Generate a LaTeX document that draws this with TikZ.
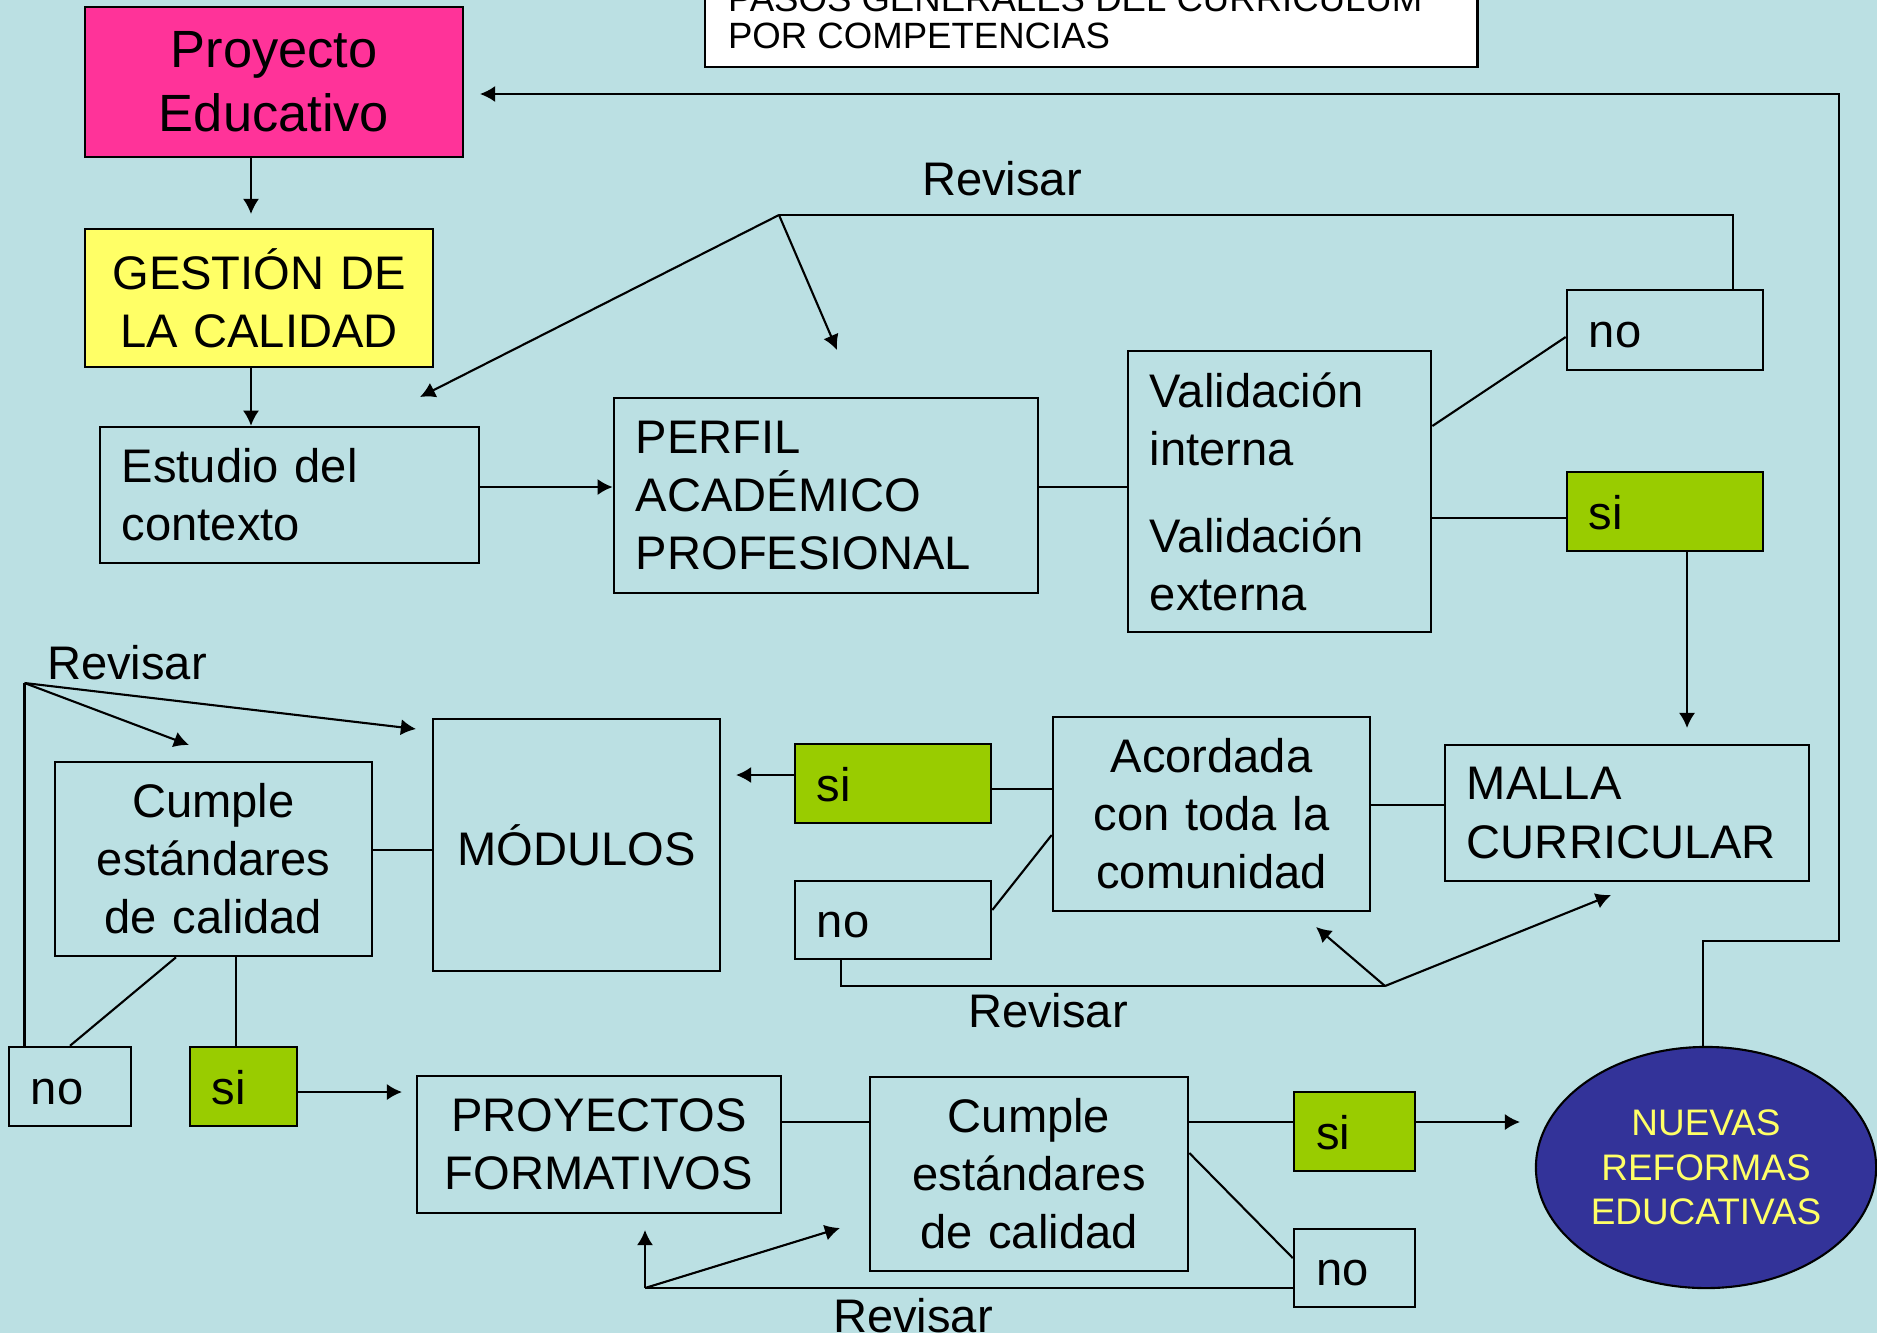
\documentclass[tikz,border=0pt]{standalone}
\usepackage{fontspec}
\setmainfont{Liberation Sans}
\usetikzlibrary{arrows.meta,shapes.geometric}
\definecolor{fondo}{RGB}{187,224,227}
\definecolor{rosa}{RGB}{255,51,153}
\definecolor{amarillo}{RGB}{255,255,102}
\definecolor{verde}{RGB}{153,204,0}
\definecolor{azul}{RGB}{51,51,153}
\newcommand{\letraN}{\fontsize{13.4}{16.5}\selectfont}
\newcommand{\letraP}{\fontsize{14.9}{18.2}\selectfont}
\newcommand{\letraT}{\fontsize{10.4}{10.5}\selectfont}
\newcommand{\letraE}{\fontsize{10.5}{12.7}\selectfont}
\tikzset{
  caja/.style={draw, line width=0.7pt, inner xsep=0.22cm, inner ysep=0pt, font=\letraN},
  izq/.style={caja, align=left},
  cen/.style={caja, align=center},
  cajasi/.style={izq, fill=verde, minimum height=0.79cm, text height=10pt, text depth=0pt},
  cajano/.style={izq, minimum height=0.79cm, text height=10pt, text depth=0pt},
  texto/.style={inner sep=0pt, font=\letraN},
}
\begin{document}
\begin{tikzpicture}[x=0.01cm, y=-0.01cm, line width=0.6pt, >={Latex[length=4.3pt,width=4.6pt]}]
%Background
\useasboundingbox (0,0) rectangle (1877,1333);
\clip (0,0) rectangle (1877,1333);
\fill[fondo] (0,0) rectangle (1877,1333);

%Title
\node [caja, fill=white, minimum width=7.72cm, minimum height=1.2cm, anchor=south west] (titulo) at (704,68) {};
\node [texto, font=\letraT, anchor=base west] (tit1) at (727,11) {PASOS GENERALES DEL CURRICULUM};
\node [texto, font=\letraT, anchor=base west] (tit2) at (727,48) {POR COMPETENCIAS};

%Boxes
\node [cen, fill=rosa, font=\letraP, text width=3.34cm, minimum height=1.50cm] (proyecto) at (274,82) {Proyecto\\Educativo};
\node [cen, fill=amarillo, text width=3.04cm, minimum height=1.38cm] (gestion) at (259,298) {GESTIÓN DE\\LA CALIDAD};
\node [izq, text width=3.35cm, minimum height=1.36cm] (estudio) at (289.5,495) {Estudio del\\contexto};
\node [izq, text width=3.80cm, minimum height=1.95cm] (perfil) at (826,495.5) {PERFIL\\ACADÉMICO\\PROFESIONAL};
\node [izq, text width=2.59cm, minimum height=2.81cm] (valid) at (1279.5,491.5) {Validación\\interna\\[0.29cm]Validación\\externa};
\node [cajano, text width=1.52cm, minimum height=0.80cm] (noA) at (1665,330) {no};
\node [cajasi, text width=1.52cm] (siA) at (1665,511.5) {si};
\node [izq, text width=3.20cm, minimum height=1.36cm] (malla) at (1627,813) {MALLA\\CURRICULAR};
\node [cen, text width=2.73cm, minimum height=1.94cm] (acordada) at (1211.5,814) {Acordada\\con toda la\\comunidad};
\node [cajasi, text width=1.52cm] (siB) at (893,783.5) {si};
\node [cajano, text width=1.52cm, minimum height=0.78cm] (noB) at (893,920) {no};
\node [cen, text width=2.43cm, minimum height=2.52cm] (modulos) at (576.5,845) {MÓDULOS};
\node [cen, text width=2.73cm, minimum height=1.94cm] (cumpleA) at (213.5,859) {Cumple\\estándares\\de calidad};
\node [cajano, text width=0.78cm] (noC) at (70,1086.5) {no};
\node [cajasi, text width=0.63cm] (siC) at (243.5,1086.5) {si};
\node [cen, text width=3.20cm, minimum height=1.37cm] (proyectos) at (599,1144.5) {PROYECTOS\\FORMATIVOS};
\node [cen, text width=2.74cm, minimum height=1.94cm] (cumpleB) at (1029,1174) {Cumple\\estándares\\de calidad};
\node [cajasi, text width=0.77cm] (siD) at (1354.5,1131.5) {si};
\node [cajano, text width=0.77cm, minimum height=0.78cm] (noD) at (1354.5,1268) {no};
\node [ellipse, draw, line width=0.6pt, fill=azul, text=amarillo, font=\letraE, align=center, inner sep=0pt, minimum width=3.40cm, minimum height=2.41cm] (nuevas) at (1706,1167.5) {NUEVAS\\REFORMAS\\EDUCATIVAS};

%Revisar labels
\node [texto, anchor=base] (revA) at (1002,195) {Revisar};
\node [texto, anchor=base] (revB) at (1048,1027) {Revisar};
\node [texto, anchor=base west] (revC) at (46,679) {Revisar};
\node [texto, anchor=base] (revD) at (913,1332) {Revisar};

%Helper points
\coordinate (tG) at (251,214);
\coordinate (r1) at (0,487);
\coordinate (r2) at (0,426);
\coordinate (r3) at (0,337);
\coordinate (r4) at (0,518);
\coordinate (c1) at (1733,0);
\coordinate (jA) at (779,215);
\coordinate (fA1) at (420,397);
\coordinate (fA2) at (837,350);
\coordinate (c2) at (1687,0);
\coordinate (tM) at (1687,728);
\coordinate (r5) at (0,805);
\coordinate (r6) at (0,789);
\coordinate (tMod) at (736,775);
\coordinate (r8) at (0,910);
\coordinate (r9) at (0,835);
\coordinate (c3) at (841,0);
\coordinate (jB) at (1385,986);
\coordinate (fB1) at (1316,927);
\coordinate (fB2) at (1611,895);
\coordinate (r10) at (0,850);
\coordinate (c4) at (176,0);
\coordinate (c5) at (70,0);
\coordinate (c6) at (236,0);
\coordinate (jC) at (24.5,683);
\coordinate (fC1) at (189,745);
\coordinate (fC2) at (416,729);
\coordinate (tP) at (402,1092);
\coordinate (r11) at (0,1122);
\coordinate (tN) at (1520,1122);
\coordinate (r12) at (0,1153);
\coordinate (r13) at (0,1258);
\coordinate (jD) at (645,1288);
\coordinate (fD1) at (645,1230);
\coordinate (fD2) at (840,1228);
\coordinate (c7) at (1703,0);
\coordinate (jE) at (1839,941);
\coordinate (tPE) at (480,94);

%Connectors
\draw [->] (proyecto.south -| tG) -- (tG);
\draw [->] (gestion.south -| tG) -- (estudio.north -| tG);
\draw [->] (estudio.east |- r1) -- (perfil.west |- r1);
\draw [] (perfil.east |- r1) -- (valid.west |- r1);
\draw [] (valid.east |- r2) -- (noA.west |- r3);
\draw [] (valid.east |- r4) -- (siA.west |- r4);
\draw [] (noA.north -| c1) |- (jA);
\draw [->] (jA) -- (fA1);
\draw [->] (jA) -- (fA2);
\draw [->] (siA.south -| c2) -- (tM);
\draw [] (malla.west |- r5) -- (acordada.east |- r5);
\draw [] (acordada.west |- r6) -- (siB.east |- r6);
\draw [->] (siB.west |- tMod) -- (tMod);
\draw [] (noB.east |- r8) -- (acordada.west |- r9);
\draw [] (noB.south -| c3) |- (jB);
\draw [->] (jB) -- (fB1);
\draw [->] (jB) -- (fB2);
\draw [] (modulos.west |- r10) -- (cumpleA.east |- r10);
\draw [] (cumpleA.south -| c4) -- (noC.north -| c5);
\draw [] (cumpleA.south -| c6) -- (siC.north -| c6);
\draw [] (noC.north -| jC) -- (jC);
\draw [->] (jC) -- (fC1);
\draw [->] (jC) -- (fC2);
\draw [->] (siC.east |- tP) -- (tP);
\draw [] (proyectos.east |- r11) -- (cumpleB.west |- r11);
\draw [] (cumpleB.east |- r11) -- (siD.west |- r11);
\draw [->] (siD.east |- r11) -- (tN);
\draw [] (cumpleB.east |- r12) -- (noD.west |- r13);
\draw [] (noD.west |- jD) -- (jD);
\draw [->] (jD) -- (fD1);
\draw [->] (jD) -- (fD2);
\draw [->] (nuevas.north -| c7) |- (jE) |- (tPE);
\end{tikzpicture}
\end{document}
